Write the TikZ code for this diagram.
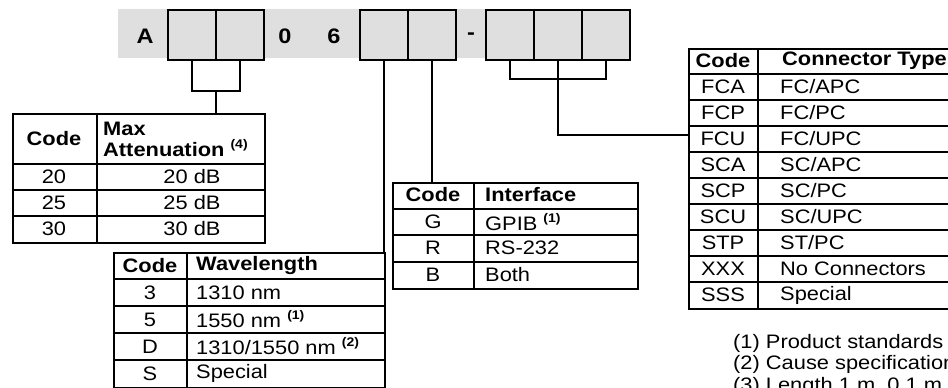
\documentclass[tikz,border=0pt]{standalone}
\usepackage{fontspec}
\setmainfont{Liberation Sans}[FakeStretch=1.12]
\newcommand\supnote[1]{\raisebox{8pt}{\fontsize{12.5}{13}\selectfont\bfseries(#1)}}
\begin{document}
\begin{tikzpicture}[x=1pt,y=-1pt,
  ln/.style={line width=2pt},
  tbl/.style={draw, line width=2pt, inner sep=0pt, anchor=north west},
  slot/.style={draw, line width=2pt, fill=gray!25, minimum width=48pt, minimum height=50pt, inner sep=0pt},
  big/.style={font=\fontsize{21}{22}\selectfont\bfseries, inner sep=0pt},
  tx/.style={font=\fontsize{19.5}{21}\selectfont, inner sep=0pt},
  txl/.style={tx, anchor=west},
  hd/.style={font=\fontsize{19.5}{21}\selectfont\bfseries, inner sep=0pt},
  hdl/.style={hd, anchor=west}]
\useasboundingbox (0,0) rectangle (948,388);
\clip (0,0) rectangle (948,388);
% top strip
\fill[gray!25] (118,9) rectangle (630,58);
\node[slot] (b1) at (192,35) {};
\node[slot] (b2) at (240,35) {};
\node[slot] (b3) at (384,35) {};
\node[slot] (b4) at (432,35) {};
\node[slot] (b5) at (510,35) {};
\node[slot] (b6) at (558,35) {};
\node[slot] (b7) at (606,35) {};
\node[big] (cA) at (145,36) {A};
\node[big] (c0) at (285,36) {0};
\node[big] (c6) at (334,36) {6};
\node[big] (cd) at (471,36) {-};
% attenuation table
\node[tbl, minimum width=252pt, minimum height=129pt] (att) at (12,113) {};
\draw[ln] (97,113) -- (97,242);
\foreach \y in {164,190,216} \draw[ln] (12,\y) -- (264,\y);
\node[hd] (a0) at (54,139) {Code};
\node[hdl] (a1) at (103,129) {Max};
\node[hdl] (a2) at (103,148) {Attenuation \supnote{4}};
\node[tx] (a3) at (54,177) {20};
\node[tx] (a4) at (192,177) {20 dB};
\node[tx] (a5) at (54,203) {25};
\node[tx] (a6) at (192,203) {25 dB};
\node[tx] (a7) at (54,229) {30};
\node[tx] (a8) at (192,229) {30 dB};
% wavelength table
\node[tbl, minimum width=271pt, minimum height=135pt] (wl) at (113,252) {};
\draw[ln] (187,252) -- (187,387);
\foreach \y in {279,306,333,360} \draw[ln] (113,\y) -- (384,\y);
\node[hd] (w0) at (150,265.5) {Code};
\node[hdl] (w1) at (196,265.5) {Wavelength};
\node[tx] (w2) at (150,292.5) {3};
\node[txl] (w3) at (196,292.5) {1310 nm};
\node[tx] (w4) at (150,319.5) {5};
\node[txl] (w5) at (196,319.5) {1550 nm \supnote{1}};
\node[tx] (w6) at (150,346.5) {D};
\node[txl] (w7) at (196,346.5) {1310/1550 nm \supnote{2}};
\node[tx] (w8) at (150,373.5) {S};
\node[txl] (w9) at (196,373.5) {Special};
% interface table
\node[tbl, minimum width=245pt, minimum height=106pt] (intf) at (392,182) {};
\draw[ln] (474,182) -- (474,288);
\foreach \y in {208.5,235,261.5} \draw[ln] (392,\y) -- (637,\y);
\node[hd] (i0) at (433,195) {Code};
\node[hdl] (i1) at (485,195) {Interface};
\node[tx] (i2) at (433,221.75) {G};
\node[txl] (i3) at (485,221.75) {GPIB \supnote{1}};
\node[tx] (i4) at (433,248.25) {R};
\node[txl] (i5) at (485,248.25) {RS-232};
\node[tx] (i6) at (433,274.75) {B};
\node[txl] (i7) at (485,274.75) {Both};
% connector table
\node[tbl, minimum width=300pt, minimum height=260pt] (con) at (688,48) {};
\draw[ln] (758,48) -- (758,308);
\foreach \k in {1,...,9} \draw[ln] (688,48+26*\k) -- (988,48+26*\k);
\node[hd] (k0) at (723,61) {Code};
\node[hdl] (k1) at (782,61) {Connector Type};
\foreach [count=\i] \c/\t in {FCA/FC\slash APC, FCP/FC\slash PC, FCU/FC\slash UPC, SCA/SC\slash APC, SCP/SC\slash PC, SCU/SC\slash UPC, STP/ST\slash PC, XXX/No Connectors, SSS/Special} {
  \node[tx] (kc\i) at (723,61+26*\i) {\c};
  \node[txl] (kt\i) at (780,61+26*\i) {\t};
}
% footnotes
\node[txl] (f1) at (733,343) {(1) Product standards};
\node[txl] (f2) at (733,364) {(2) Cause specification};
\node[txl] (f3) at (733,386) {(3) Length 1 m, 0.1 m};
% connectors
\coordinate (attj) at (216,91);
\draw[ln] (b1.south) |- (attj) -| (b2.south);
\draw[ln] (attj) -- (attj |- att.north);
\draw[ln] (b3.south) -- (b3.south |- wl.north);
\draw[ln] (b4.south) -- (b4.south |- intf.north);
\coordinate (cj) at (558,79);
\draw[ln] (b5.south) |- (cj) -| (b7.south);
\coordinate (ce) at (688,135);
\draw[ln] (b6.south) |- (ce);
\end{tikzpicture}
\end{document}
